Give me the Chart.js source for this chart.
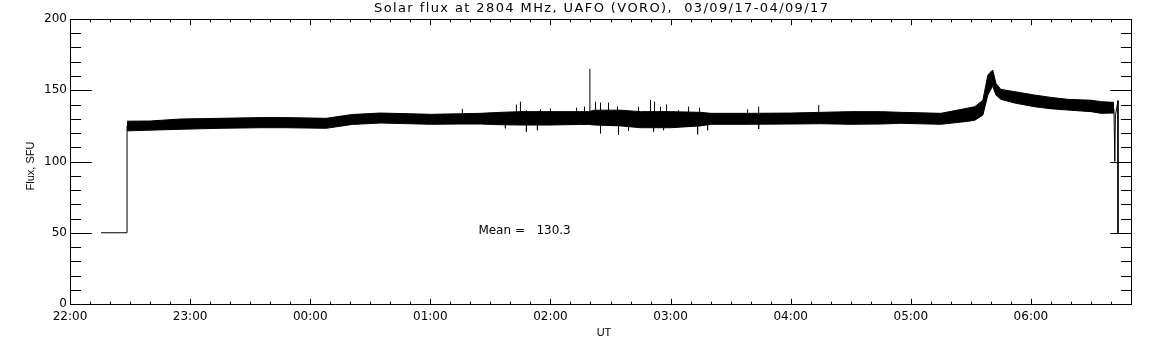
<!DOCTYPE html>
<html><head><meta charset="utf-8">
<script src="https://cdn.jsdelivr.net/npm/chart.js@4.4.0/dist/chart.umd.min.js"></script>
<style>html,body{margin:0;padding:0;background:#fff;}#wrap{width:1152px;height:345px;}</style>
</head><body><div id="wrap"><canvas id="c" width="1152" height="345"></canvas></div>
<script>
const titleText = 'Solar flux at 2804 MHz, UAFO (VORO),  03/09/17-04/09/17';
const xTitle = 'UT';
const yTitle = 'Flux, SFU';
const meanLabel = 'Mean =   130.3';
const xTickLabels = ['22:00','23:00','00:00','01:00','02:00','03:00','04:00','05:00','06:00'];
const yTickLabels = ['0','50','100','150','200'];
// time in minutes after 22:00 UT
const bandTimes = [28.5,40,55,75,95,108,128,141,155,170,180,195,205,215,225,240,255,259,262,275,285,300,315,320,340,360,375,390,405,415,435,448,452,456,458.5,460.5,461,462.5,465,472,481.5,490,498.5,510,515,521.5];
const bandHigh  = [128.3,128.4,129.8,130.3,130.8,130.8,130.3,133,134,133.5,133.1,133.5,133.8,134.5,135,135,135,135,136,136,135,135,134.5,133.8,133.8,134,134.5,135,135,134.5,133.8,137.3,138.5,143,160.7,163.7,164,154.9,150.6,149,146.7,145,143.6,143,142,141.5];
const bandLow   = [121.5,122,122.6,123.3,123.7,123.7,123.3,126,127,126.5,126.1,126.3,126.3,125.8,125.6,125.6,126,126,125.6,125,123.7,123.7,125,126.1,126.1,126.3,126.5,126.1,126.3,126.8,126.1,128.1,129,132.6,146.7,152,152.7,146.7,143.6,141,138.5,137,136.1,135,133.8,134];
const leadTimes = [15.5,28.5,28.5];
const leadFlux  = [50,50,125];
const tailTimes = [521.5,521.9,522.2,523.5,523.5];
const tailFlux  = [137,100,132,142.7,50];
const spikeTimes = [196,223,225,228,235,240,253,257,259.7,262.5,265,269,273.5,284,217.5,228,233.5,265,274,279,290,292,295,298,304,309,314.5,338.5,344,374,291.5,296.5,313.5,318.5,344];
const spikeFrom  = [132,132,132,132,132,132,132,132,133,132,132,132,132,132,128,128,128,128,128,128,132,132,132,132,132,132,132,132,132,132,128,128,128,128,128];
const spikeTo    = [137,140,142,136,136.6,137.3,137.8,138.5,165,142,141.3,141.3,138.5,138.5,123.3,121,122,119.8,118.6,121.6,143.2,142,138.5,140.1,136.1,138.5,137.8,136.6,138.5,139.6,121,122,119.1,122,122.8];

const FONT = 'DejaVu Sans';
const pts = (xs, ys) => xs.map((t, i) => ({x: t, y: ys[i]}));
const spikePts = [];
spikeTimes.forEach((t, i) => { spikePts.push({x: t, y: spikeFrom[i]}, {x: t, y: spikeTo[i]}, {x: t, y: null}); });

const line = {borderColor: '#000', borderWidth: 1, pointRadius: 0, tension: 0, fill: false};

const framePlugin = {
  id: 'frame',
  afterDatasetsDraw(chart) {
    const {ctx, chartArea: ca, scales: {x, y}} = chart;
    const L = Math.round(ca.left) + 0.5, R = Math.round(ca.right) + 0.5, T = Math.round(ca.top) + 0.5, B = Math.round(ca.bottom) + 0.5;
    const xMaj = 0.02 * (B - T), xMin = xMaj / 2, yMaj = 0.02 * (R - L), yMin = yMaj / 2;
    ctx.save();
    ctx.strokeStyle = '#000'; ctx.lineWidth = 1;
    ctx.beginPath();
    ctx.rect(L, T, R - L, B - T);
    for (let v = 0; v <= x.max; v += 10) {
      const p = Math.round(x.getPixelForValue(v)) + 0.5;
      const len = v % 60 === 0 ? xMaj : xMin;
      ctx.moveTo(p, B); ctx.lineTo(p, B - len);
      ctx.moveTo(p, T); ctx.lineTo(p, T + len);
    }
    for (let v = 0; v <= y.max; v += 10) {
      const p = Math.round(y.getPixelForValue(v)) + 0.5;
      const len = v % 50 === 0 ? yMaj : yMin;
      ctx.moveTo(L, p); ctx.lineTo(L + len, p);
      ctx.moveTo(R, p); ctx.lineTo(R - len, p);
    }
    ctx.stroke();
    ctx.fillStyle = '#000';
    ctx.textBaseline = 'middle';
    // mean label
    ctx.font = '12px "' + FONT + '"';
    ctx.textAlign = 'left';
    ctx.fillText(meanLabel, x.getPixelForValue(204), y.getPixelForValue(51));
    // main title
    const cx = (L + R) / 2;
    ctx.textAlign = 'center';
    ctx.font = '13px "' + FONT + '"';
    ctx.letterSpacing = '1.4px';
    ctx.fillText(titleText, cx + 0.7, 9);
    ctx.letterSpacing = '0px';
    // x title
    ctx.font = '11px "Liberation Sans"';
    ctx.fillText(xTitle, cx + 3, 333);
    // y title
    ctx.save();
    ctx.translate(31, (T + B) / 2 + 4);
    ctx.rotate(-Math.PI / 2);
    ctx.fillText(yTitle, 0, 0);
    ctx.restore();
    ctx.restore();
  }
};

new Chart(document.getElementById('c'), {
  type: 'line',
  data: {datasets: [
    Object.assign({}, line, {data: pts(bandTimes, bandHigh), fill: '+1', backgroundColor: '#000'}),
    Object.assign({}, line, {data: pts(bandTimes, bandLow)}),
    Object.assign({}, line, {data: pts(leadTimes, leadFlux)}),
    Object.assign({}, line, {data: pts(tailTimes, tailFlux)}),
    Object.assign({}, line, {data: spikePts, spanGaps: false})
  ]},
  options: {
    responsive: false, animation: false, devicePixelRatio: 1,
    layout: {padding: {left: 0, right: 21, top: 19, bottom: 0}},
    plugins: {legend: {display: false}, tooltip: {enabled: false}, title: {display: false}},
    scales: {
      x: {
        type: 'linear', min: 0, max: 530, offset: false,
        afterFit(s) { s.height = 41; },
        grid: {display: false, drawTicks: false}, border: {display: false},
        ticks: {stepSize: 60, autoSkip: false, maxRotation: 0, padding: 6, color: '#000', font: {family: FONT, size: 12},
          callback: (v) => (v % 60 === 0 && v / 60 < xTickLabels.length) ? xTickLabels[v / 60] : ''},
        title: {display: false}
      },
      y: {
        min: 0, max: 200,
        afterFit(s) { s.width = 70; },
        grid: {display: false, drawTicks: false}, border: {display: false},
        ticks: {stepSize: 50, padding: 3, color: '#000', font: {family: FONT, size: 12},
          callback: (v) => yTickLabels[v / 50]},
        title: {display: false}
      }
    }
  },
  plugins: [framePlugin]
});
</script></body></html>
